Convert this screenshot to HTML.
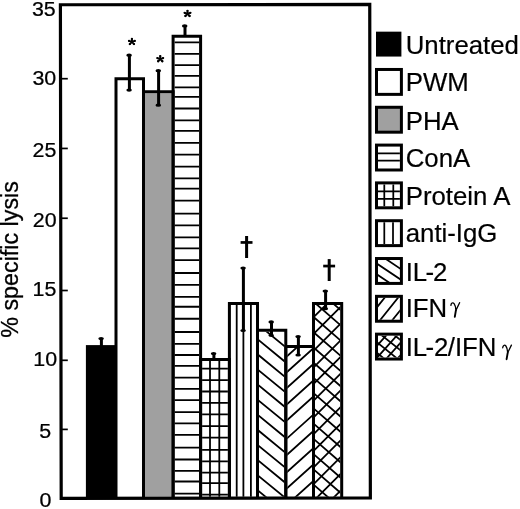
<!DOCTYPE html>
<html><head><meta charset="utf-8"><style>
html,body{margin:0;padding:0;background:#fff;width:520px;height:509px;overflow:hidden}
svg{display:block;will-change:transform}
text{font-family:"Liberation Sans", sans-serif;fill:#000}
</style></head><body>
<svg width="520" height="509" viewBox="0 0 520 509">
<defs><clipPath id="c2"><rect x="145.00" y="93.35" width="26.60" height="403.35"/></clipPath><clipPath id="c3"><rect x="174.60" y="37.85" width="24.50" height="458.85"/></clipPath><clipPath id="c4"><rect x="202.10" y="360.90" width="25.80" height="135.80"/></clipPath><clipPath id="c5"><rect x="230.90" y="305.10" width="25.10" height="191.60"/></clipPath><clipPath id="c6"><rect x="259.00" y="331.75" width="25.30" height="164.95"/></clipPath><clipPath id="c7"><rect x="287.30" y="348.05" width="24.70" height="148.65"/></clipPath><clipPath id="c8"><rect x="315.00" y="304.95" width="25.20" height="191.75"/></clipPath><clipPath id="lc3"><rect x="378.0" y="146.59" width="21.90" height="21.90"/></clipPath><clipPath id="lc4"><rect x="378.0" y="184.40" width="21.90" height="21.90"/></clipPath><clipPath id="lc5"><rect x="378.0" y="222.21" width="21.90" height="21.90"/></clipPath><clipPath id="lc6"><rect x="378.0" y="260.02" width="21.90" height="21.90"/></clipPath><clipPath id="lc7"><rect x="378.0" y="297.83" width="21.90" height="21.90"/></clipPath><clipPath id="lc8"><rect x="378.0" y="335.64" width="21.90" height="21.90"/></clipPath></defs>
<rect x="85.9" y="345.10" width="30.10" height="153.00" fill="#000"/>
<rect x="145.00" y="93.35" width="26.60" height="403.35" fill="#a0a0a0"/>
<path clip-path="url(#c3)" d="M173.6 42.40H200.1M173.6 53.90H200.1M173.6 65.20H200.1M173.6 75.80H200.1M173.6 87.40H200.1M173.6 96.90H200.1M173.6 108.50H200.1M173.6 120.30H200.1M173.6 130.90H200.1M173.6 142.90H200.1M173.6 154.70H200.1M173.6 166.70H200.1M173.6 178.35H200.1M173.6 188.70H200.1M173.6 200.60H200.1M173.6 213.70H200.1M173.6 225.30H200.1M173.6 237.40H200.1M173.6 248.40H200.1M173.6 260.10H200.1M173.6 273.00H200.1M173.6 284.80H200.1M173.6 296.80H200.1M173.6 306.75H200.1M173.6 318.75H200.1M173.6 332.00H200.1M173.6 343.80H200.1M173.6 355.00H200.1M173.6 365.90H200.1M173.6 377.70H200.1M173.6 388.80H200.1M173.6 400.20H200.1M173.6 412.20H200.1M173.6 423.30H200.1M173.6 434.80H200.1M173.6 447.70H200.1M173.6 459.50H200.1M173.6 470.90H200.1M173.6 481.50H200.1M173.6 493.70H200.1" stroke="#000" stroke-width="1.8" fill="none"/>
<path clip-path="url(#c4)" d="M210.00 359.9V497.7M219.30 359.9V497.7M201.1 368.70H228.9M201.1 380.10H228.9M201.1 391.50H228.9M201.1 402.90H228.9M201.1 414.30H228.9M201.1 426.20H228.9M201.1 437.60H228.9M201.1 449.90H228.9M201.1 461.30H228.9M201.1 472.70H228.9M201.1 483.20H228.9M201.1 494.60H228.9" stroke="#000" stroke-width="1.8" fill="none"/>
<path clip-path="url(#c5)" d="M236.70 304.1V497.7M243.40 304.1V497.7M250.90 304.1V497.7" stroke="#000" stroke-width="1.8" fill="none"/>
<path clip-path="url(#c6)" d="M252.50 274.67L288.80 304.44M252.50 289.77L288.80 319.54M252.50 304.87L288.80 334.64M252.50 319.97L288.80 349.74M252.50 335.07L288.80 364.84M252.50 350.17L288.80 379.94M252.50 365.27L288.80 395.04M252.50 380.37L288.80 410.14M252.50 395.47L288.80 425.24M252.50 410.57L288.80 440.34M252.50 425.67L288.80 455.44M252.50 440.77L288.80 470.54M252.50 455.87L288.80 485.64M252.50 470.97L288.80 500.74M252.50 486.07L288.80 515.84" stroke="#000" stroke-width="1.8" fill="none"/>
<path clip-path="url(#c7)" d="M282.80 344.05L318.50 311.92M282.80 360.05L318.50 327.92M282.80 375.75L318.50 343.62M282.80 391.55L318.50 359.42M282.80 408.05L318.50 375.92M282.80 423.95L318.50 391.82M282.80 442.15L318.50 410.02M282.80 458.55L318.50 426.42M282.80 475.85L318.50 443.72M282.80 492.05L318.50 459.92M282.80 508.55L318.50 476.42" stroke="#000" stroke-width="1.8" fill="none"/>
<path clip-path="url(#c8)" d="M308.50 282.08L346.70 315.32M308.50 305.60L346.70 267.40M308.50 297.32L346.70 330.56M308.50 322.30L346.70 284.10M308.50 312.56L346.70 345.80M308.50 339.00L346.70 300.80M308.50 327.80L346.70 361.04M308.50 355.70L346.70 317.50M308.50 343.04L346.70 376.28M308.50 372.40L346.70 334.20M308.50 358.28L346.70 391.52M308.50 389.10L346.70 350.90M308.50 373.52L346.70 406.76M308.50 405.80L346.70 367.60M308.50 388.76L346.70 422.00M308.50 422.50L346.70 384.30M308.50 404.00L346.70 437.24M308.50 439.20L346.70 401.00M308.50 419.25L346.70 452.48M308.50 455.90L346.70 417.70M308.50 434.49L346.70 467.72M308.50 472.60L346.70 434.40M308.50 449.73L346.70 482.96M308.50 489.30L346.70 451.10M308.50 464.96L346.70 498.20M308.50 506.00L346.70 467.80M308.50 480.20L346.70 513.44M308.50 522.70L346.70 484.50M308.50 495.44L346.70 528.68M308.50 539.40L346.70 501.20" stroke="#000" stroke-width="1.8" fill="none"/>
<path d="M116.00 498.10V78.85H143.50V498.10" stroke="#000" stroke-width="3.0" fill="none"/>
<path d="M143.50 498.10V91.85H173.10V498.10" stroke="#000" stroke-width="3.0" fill="none"/>
<path d="M173.10 498.10V36.35H200.60V498.10" stroke="#000" stroke-width="3.0" fill="none"/>
<path d="M200.60 498.10V359.40H229.40V498.10" stroke="#000" stroke-width="3.0" fill="none"/>
<path d="M229.40 498.10V303.60H257.50V498.10" stroke="#000" stroke-width="3.0" fill="none"/>
<path d="M257.50 498.10V330.25H285.80V498.10" stroke="#000" stroke-width="3.0" fill="none"/>
<path d="M285.80 498.10V346.55H313.50V498.10" stroke="#000" stroke-width="3.0" fill="none"/>
<path d="M313.50 498.10V303.45H341.70V498.10" stroke="#000" stroke-width="3.0" fill="none"/>
<path d="M101.4 338.5V346.4" stroke="#000" stroke-width="3.0" fill="none"/>
<ellipse cx="101.10000000000001" cy="338.6" rx="2.8" ry="1.6" fill="#000"/>
<path d="M129.4 55.1V90.15" stroke="#000" stroke-width="3.0" fill="none"/>
<ellipse cx="129.1" cy="55.2" rx="2.8" ry="1.6" fill="#000"/>
<ellipse cx="129.1" cy="90.05000000000001" rx="2.8" ry="1.6" fill="#000"/>
<path d="M158.6 70.6V105.3" stroke="#000" stroke-width="3.0" fill="none"/>
<ellipse cx="158.29999999999998" cy="70.69999999999999" rx="2.8" ry="1.6" fill="#000"/>
<ellipse cx="158.29999999999998" cy="105.2" rx="2.8" ry="1.6" fill="#000"/>
<path d="M185.0 25.8V36.35" stroke="#000" stroke-width="3.0" fill="none"/>
<ellipse cx="184.7" cy="25.900000000000002" rx="2.8" ry="1.6" fill="#000"/>
<path d="M213.9 353.5V359.4" stroke="#000" stroke-width="3.0" fill="none"/>
<ellipse cx="213.6" cy="353.6" rx="2.8" ry="1.6" fill="#000"/>
<path d="M243.4 268.0V330.6" stroke="#000" stroke-width="3.0" fill="none"/>
<ellipse cx="243.1" cy="268.1" rx="2.8" ry="1.6" fill="#000"/>
<ellipse cx="243.1" cy="330.5" rx="2.8" ry="1.6" fill="#000"/>
<path d="M271.5 321.8V335.4" stroke="#000" stroke-width="3.0" fill="none"/>
<ellipse cx="271.2" cy="321.90000000000003" rx="2.8" ry="1.6" fill="#000"/>
<ellipse cx="271.2" cy="335.29999999999995" rx="2.8" ry="1.6" fill="#000"/>
<path d="M298.4 336.5V355.1" stroke="#000" stroke-width="3.0" fill="none"/>
<ellipse cx="298.09999999999997" cy="336.6" rx="2.8" ry="1.6" fill="#000"/>
<ellipse cx="298.09999999999997" cy="355.0" rx="2.8" ry="1.6" fill="#000"/>
<path d="M325.6 291.0V308.8" stroke="#000" stroke-width="3.0" fill="none"/>
<ellipse cx="325.3" cy="291.1" rx="2.8" ry="1.6" fill="#000"/>
<ellipse cx="325.3" cy="308.7" rx="2.8" ry="1.6" fill="#000"/>
<path d="M60.4 4.75L369.75 4.45L370.35 497.9L61.2 498.3Z" stroke="#000" stroke-width="3.2" fill="none" stroke-linejoin="miter"/>
<path d="M61.0 78.7H67.8" stroke="#000" stroke-width="1.7"/>
<path d="M61.0 148.45H67.8" stroke="#000" stroke-width="1.7"/>
<path d="M61.0 218.25H67.8" stroke="#000" stroke-width="1.7"/>
<path d="M61.0 290.5H67.8" stroke="#000" stroke-width="1.7"/>
<path d="M61.0 360.3H67.8" stroke="#000" stroke-width="1.7"/>
<path d="M61.0 429.4H67.8" stroke="#000" stroke-width="1.7"/>
<text transform="translate(31.91,15.62) scale(1.045,1)" font-size="20.5" stroke="#000" stroke-width="0.25">35</text>
<text transform="translate(32.46,84.62) scale(1.045,1)" font-size="20.5" stroke="#000" stroke-width="0.25">30</text>
<text transform="translate(32.55,157.02) scale(1.045,1)" font-size="20.5" stroke="#000" stroke-width="0.25">25</text>
<text transform="translate(32.80,226.60) scale(1.045,1)" font-size="20.5" stroke="#000" stroke-width="0.25">20</text>
<text transform="translate(32.58,296.37) scale(1.045,1)" font-size="20.5" stroke="#000" stroke-width="0.25">15</text>
<text transform="translate(33.28,365.82) scale(1.045,1)" font-size="20.5" stroke="#000" stroke-width="0.25">10</text>
<text transform="translate(39.21,438.05) scale(1.045,1)" font-size="20.5" stroke="#000" stroke-width="0.25">5</text>
<text transform="translate(39.60,506.62) scale(1.045,1)" font-size="20.5" stroke="#000" stroke-width="0.25">0</text>
<path d="M131.90 41.90L131.90 38.90M131.90 41.90L134.74 40.92M131.90 41.90L133.98 44.06M131.90 41.90L129.82 44.06M131.90 41.90L129.06 40.92" stroke="#000" stroke-width="1.9" stroke-linecap="round" fill="none"/>
<g fill="#000"><circle cx="131.90" cy="38.90" r="1.15"/><circle cx="134.74" cy="40.92" r="1.15"/><circle cx="133.98" cy="44.06" r="1.15"/><circle cx="129.82" cy="44.06" r="1.15"/><circle cx="129.06" cy="40.92" r="1.15"/></g>
<path d="M160.25 59.10L160.25 56.10M160.25 59.10L163.09 58.12M160.25 59.10L162.33 61.26M160.25 59.10L158.17 61.26M160.25 59.10L157.41 58.12" stroke="#000" stroke-width="1.9" stroke-linecap="round" fill="none"/>
<g fill="#000"><circle cx="160.25" cy="56.10" r="1.15"/><circle cx="163.09" cy="58.12" r="1.15"/><circle cx="162.33" cy="61.26" r="1.15"/><circle cx="158.17" cy="61.26" r="1.15"/><circle cx="157.41" cy="58.12" r="1.15"/></g>
<path d="M187.50 13.85L187.50 10.85M187.50 13.85L190.34 12.87M187.50 13.85L189.58 16.01M187.50 13.85L185.42 16.01M187.50 13.85L184.66 12.87" stroke="#000" stroke-width="1.9" stroke-linecap="round" fill="none"/>
<g fill="#000"><circle cx="187.50" cy="10.85" r="1.15"/><circle cx="190.34" cy="12.87" r="1.15"/><circle cx="189.58" cy="16.01" r="1.15"/><circle cx="185.42" cy="16.01" r="1.15"/><circle cx="184.66" cy="12.87" r="1.15"/></g>
<rect x="245.1" y="236.0" width="3.00" height="22.00" fill="#000"/>
<rect x="240.6" y="241.1" width="11.90" height="2.70" fill="#000"/>
<rect x="327.7" y="259.1" width="3.00" height="21.90" fill="#000"/>
<rect x="323.2" y="264.7" width="11.90" height="2.70" fill="#000"/>
<text transform="translate(18.00,337.73) rotate(-90)" font-size="23.3" stroke="#000" stroke-width="0.3">% specific lysis</text>
<rect x="376" y="31.66" width="25.4" height="24.9" fill="#000"/>
<text transform="translate(405.7,54.10) scale(1,1.02)" font-size="25.8" stroke="#000" stroke-width="0.2">Untreated</text>
<rect x="376.5" y="69.47" width="24.9" height="24.9" fill="#fff" stroke="#000" stroke-width="3"/>
<text transform="translate(405.7,90.80) scale(1,1.02)" font-size="25.8" stroke="#000" stroke-width="0.2">PWM</text>
<rect x="376.5" y="107.28" width="24.9" height="24.9" fill="#a0a0a0" stroke="#000" stroke-width="3"/>
<text transform="translate(405.7,129.55) scale(1,1.02)" font-size="25.8" stroke="#000" stroke-width="0.2">PHA</text>
<rect x="376.5" y="145.09" width="24.9" height="24.9" fill="#fff" stroke="#000" stroke-width="3"/>
<path clip-path="url(#lc3)" d="M377.0 153.44H400.9M377.0 160.74H400.9" stroke="#000" stroke-width="1.75" fill="none"/>
<text transform="translate(405.7,167.40) scale(1,1.02)" font-size="25.8" stroke="#000" stroke-width="0.2">ConA</text>
<rect x="376.5" y="182.90" width="24.9" height="24.9" fill="#fff" stroke="#000" stroke-width="3"/>
<path clip-path="url(#lc4)" d="M384.3 183.40V207.30M393.3 183.40V207.30M377.0 191.25H400.9M377.0 198.95H400.9" stroke="#000" stroke-width="1.75" fill="none"/>
<text transform="translate(405.7,204.55) scale(1,1.02)" font-size="25.8" stroke="#000" stroke-width="0.2">Protein A</text>
<rect x="376.5" y="220.71" width="24.9" height="24.9" fill="#fff" stroke="#000" stroke-width="3"/>
<path clip-path="url(#lc5)" d="M384.3 221.21V245.11M393.0 221.21V245.11" stroke="#000" stroke-width="1.75" fill="none"/>
<text transform="translate(405.7,242.40) scale(1,1.02)" font-size="25.8" stroke="#000" stroke-width="0.2">anti-IgG</text>
<rect x="376.5" y="258.52" width="24.9" height="24.9" fill="#fff" stroke="#000" stroke-width="3"/>
<path clip-path="url(#lc6)" d="M377.0 253.05L400.9 269.06M377.0 263.75L400.9 279.76M377.0 274.45L400.9 290.46" stroke="#000" stroke-width="1.75" fill="none"/>
<text transform="translate(405.7,280.60) scale(1,1.02)" font-size="25.8" stroke="#000" stroke-width="0.2">IL<tspan dx="-1.7">-</tspan><tspan dx="-1.0">2</tspan></text>
<rect x="376.5" y="296.33" width="24.9" height="24.9" fill="#fff" stroke="#000" stroke-width="3"/>
<path clip-path="url(#lc7)" d="M358.0 331.00L398.0 281.00M369.5 333.40L409.5 283.40M376.6 339.80L416.6 289.80" stroke="#000" stroke-width="1.75" fill="none"/>
<text transform="translate(405.7,317.15) scale(1,1.02)" font-size="25.8" stroke="#000" stroke-width="0.2">IFN</text>
<rect x="376.5" y="334.14" width="24.9" height="24.9" fill="#fff" stroke="#000" stroke-width="3"/>
<path clip-path="url(#lc8)" d="M359.4 317.49L409.4 357.49M360.0 328.79L410.0 368.79M358.8 306.69L408.8 346.69M360.6 339.79L410.6 379.79M359.4 365.49L409.4 309.49M360.0 376.79L410.0 320.79M366.0 381.49L416.0 325.49M353.5 359.29L403.5 303.29M372.4 386.69L422.4 330.69" stroke="#000" stroke-width="1.75" fill="none"/>
<text transform="translate(405.7,355.95) scale(1,1.02)" font-size="25.8" stroke="#000" stroke-width="0.2">IL<tspan dx="-1.6">-</tspan><tspan dx="-0.3">2</tspan><tspan dx="-0.5">/</tspan>IFN</text>
<g transform="translate(0,0)" fill="none" stroke="#000" stroke-linecap="round" stroke-linejoin="round"><path d="M450.9 305.4C451.1 303.2 452.7 301.9 454.1 303.6C455.2 305.1 455.8 307.8 455.9 310.4M459.6 302.7L455.9 310.4" stroke-width="1.3"/><path d="M455.9 310.4L454.8 316.8" stroke-width="1.9"/></g>
<g transform="translate(51.8,42.4)" fill="none" stroke="#000" stroke-linecap="round" stroke-linejoin="round"><path d="M450.9 305.4C451.1 303.2 452.7 301.9 454.1 303.6C455.2 305.1 455.8 307.8 455.9 310.4M459.6 302.7L455.9 310.4" stroke-width="1.3"/><path d="M455.9 310.4L454.8 316.8" stroke-width="1.9"/></g>
</svg>
</body></html>
